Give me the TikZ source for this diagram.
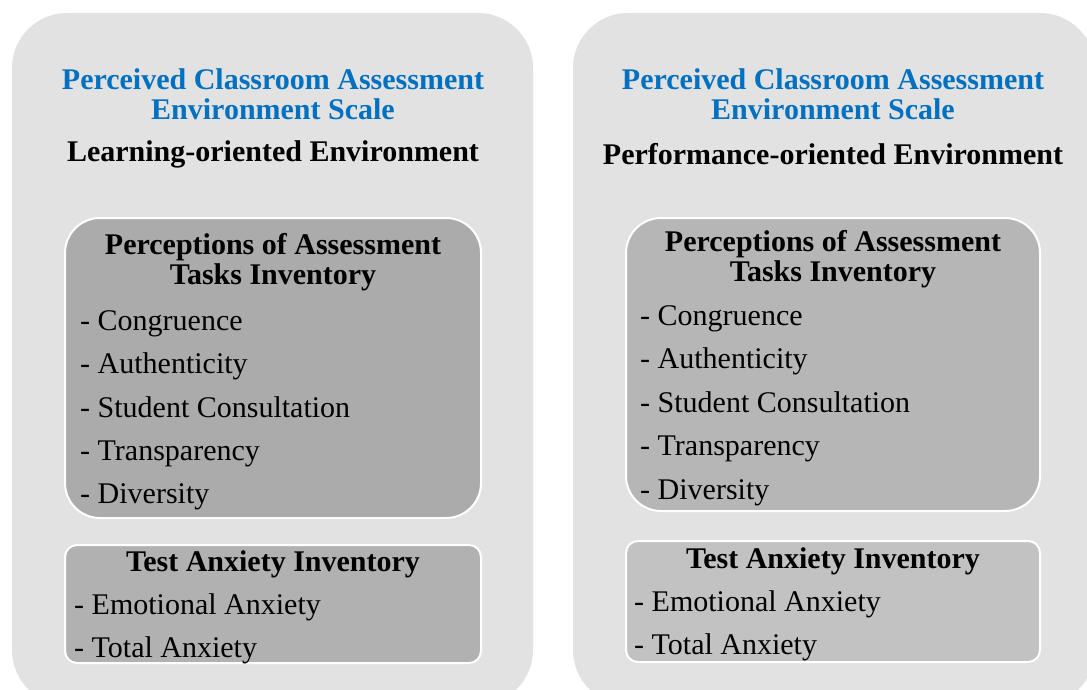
\documentclass[tikz,border=0pt]{standalone}
\usepackage{fontspec}
\setmainfont{Liberation Serif}
\definecolor{panelgray}{HTML}{E2E2E2}
\definecolor{boxA}{HTML}{ABABAB}
\definecolor{boxB}{HTML}{B1B1B1}
\definecolor{boxC}{HTML}{B6B6B6}
\definecolor{boxD}{HTML}{C2C2C2}
\definecolor{titleblue}{HTML}{0070C0}
\tikzset{
  panel/.style={fill=panelgray, draw=none, rounded corners=55pt},
  inner/.style={draw=white, line width=2pt},
  ttl/.style={font=\fontsize{30}{30}\selectfont\bfseries, text=titleblue, align=center, inner sep=0pt},
  env/.style={font=\fontsize{30}{30}\selectfont\bfseries, inner sep=0pt},
  head/.style={font=\fontsize{30}{30}\selectfont\bfseries, align=center, inner sep=0pt},
  item/.style={font=\fontsize{30}{30}\selectfont, anchor=mid west, inner sep=0pt},
}
\begin{document}
\begin{tikzpicture}[x=1pt,y=-1pt]
\useasboundingbox (0,0) rectangle (1087,690);
\fill[white] (0,0) rectangle (1087,690);
\begin{scope}
\clip (0,0) rectangle (1087,690);
% panels
\path[panel] (12,13) rectangle (533,705);
\path[panel] (573,13) rectangle (1095,705);
% left inner boxes
\path[inner, fill=boxA, rounded corners=35pt] (65,218) rectangle (481,518);
\path[inner, fill=boxB, rounded corners=12pt] (65,545) rectangle (481,663);
% right inner boxes
\path[inner, fill=boxC, rounded corners=35pt] (626,218) rectangle (1040,511);
\path[inner, fill=boxD, rounded corners=12pt] (626,541) rectangle (1040,662);
\end{scope}
% left panel texts
\node[ttl] (lt) at (273,94) {Perceived Classroom Assessment\\Environment Scale};
\node[env] (le) at (273,154) {Learning-oriented Environment};
\node[head] (lh) at (273,262) {Perceptions of Assessment\\Tasks Inventory};
\node[item] (l1) at (80,328) {- Congruence};
\node[item] (l2) at (80,371) {- Authenticity};
\node[item] (l3) at (80,415) {- Student Consultation};
\node[item] (l4) at (80,458) {- Transparency};
\node[item] (l5) at (80,501) {- Diversity};
\node[head] (lth) at (273,564) {Test Anxiety Inventory};
\node[item] (lt1) at (74,612) {- Emotional Anxiety};
\node[item] (lt2) at (74,655) {- Total Anxiety};
% right panel texts
\node[ttl] (rt) at (833,94) {Perceived Classroom Assessment\\Environment Scale};
\node[env] (re) at (833,154) {Performance-oriented Environment};
\node[head] (rh) at (833,259) {Perceptions of Assessment\\Tasks Inventory};
\node[item] (r1) at (640,323) {- Congruence};
\node[item] (r2) at (640,366) {- Authenticity};
\node[item] (r3) at (640,410) {- Student Consultation};
\node[item] (r4) at (640,453) {- Transparency};
\node[item] (r5) at (640,497) {- Diversity};
\node[head] (rth) at (833,561) {Test Anxiety Inventory};
\node[item] (rt1) at (634,609) {- Emotional Anxiety};
\node[item] (rt2) at (634,652) {- Total Anxiety};
\end{tikzpicture}
\end{document}
